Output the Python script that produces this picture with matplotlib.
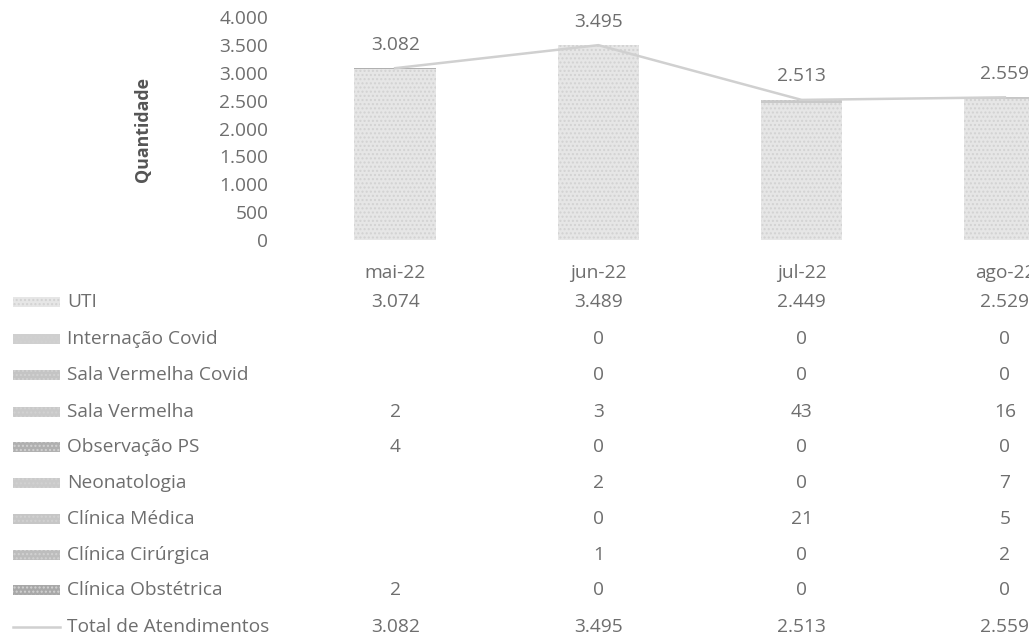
import numpy as np
import matplotlib
matplotlib.use("Agg")
import matplotlib.pyplot as plt
from matplotlib import transforms
from matplotlib.patches import Rectangle
from matplotlib.lines import Line2D

plt.rcParams['font.family'] = ['Open Sans', 'DejaVu Sans']

# -------------------------------
# Data
months = ["mai-22", "jun-22", "jul-22", "ago-22"]
series_names = ["UTI", "Internação Covid", "Sala Vermelha Covid", "Sala Vermelha",
                "Observação PS", "Neonatologia", "Clínica Médica",
                "Clínica Cirúrgica", "Clínica Obstétrica"]
uti = [3074, 3489, 2449, 2529]
internacao_covid = [np.nan, 0, 0, 0]
sala_vermelha_covid = [np.nan, 0, 0, 0]
sala_vermelha = [2, 3, 43, 16]
observacao_ps = [4, 0, 0, 0]
neonatologia = [np.nan, 2, 0, 7]
clinica_medica = [np.nan, 0, 21, 5]
clinica_cirurgica = [np.nan, 1, 0, 2]
clinica_obstetrica = [2, 0, 0, 0]
total = [3082, 3495, 2513, 2559]

series = [uti, internacao_covid, sala_vermelha_covid, sala_vermelha, observacao_ps,
          neonatologia, clinica_medica, clinica_cirurgica, clinica_obstetrica]
grays = ["#e6e6e6", "#cfcfcf", "#c4c4c4", "#c9c9c9", "#b0b0b0",
         "#cacaca", "#c6c6c6", "#bdbdbd", "#a8a8a8"]
text_color = "#6e6e6e"
FS = 13.8

# -------------------------------
W, H = 1029, 637
fig = plt.figure(figsize=(W / 100, H / 100), dpi=100)
ax_left, ax_right = 293.5, 1106.5
ax_top, ax_bottom = 17, 240
ax = fig.add_axes([ax_left / W, 1 - ax_bottom / H,
                   (ax_right - ax_left) / W, (ax_bottom - ax_top) / H])

x = np.arange(len(months))
bottom = np.zeros(len(months))
for vals, color in zip(series, grays):
    v = np.nan_to_num(np.array(vals, dtype=float))
    ax.bar(x, v, bottom=bottom, width=0.4, color=color, linewidth=0,
           hatch="....", edgecolor="#d2d2d2")
    bottom += v

ax.plot(x, total, color="#d0d0d0", linewidth=1.8)
for xi, t in zip(x, total):
    ax.annotate(f"{t:,}".replace(",", "."), (xi, t), xytext=(0, 17),
                textcoords="offset points", ha="center", va="center",
                fontsize=FS, color=text_color)

ax.set_xlim(-0.5, 3.5)
ax.set_ylim(0, 4000)
ax.set_yticks(range(0, 4001, 500))
ax.set_yticklabels([f"{v:,}".replace(",", ".") for v in range(0, 4001, 500)],
                   fontsize=FS, color=text_color)
ax.tick_params(axis="y", length=0, pad=18)
ax.set_xticks([])
for s in ax.spines.values():
    s.set_visible(False)
ax.set_facecolor("none")

fig.text(143 / W, 1 - 130 / H, "Quantidade", rotation=90, ha="center", va="center",
         fontsize=FS - 1, color="#555555", fontweight="bold")

# -------------------------------
# Data table under the chart
tr = transforms.blended_transform_factory(ax.transData, fig.transFigure)
def fy(py):
    return 1 - py / H

for xi, m in zip(x, months):
    fig.text(xi, fy(273), m, transform=tr, ha="center", va="center",
             fontsize=FS, color=text_color)

row_y = [302, 339, 375, 412, 447, 483, 519, 555, 590, 627]
for name, vals, color, py in zip(series_names + ["Total de Atendimentos"],
                                 series + [total], grays + [None], row_y):
    fig.text(67 / W, fy(py), name, ha="left", va="center", fontsize=FS, color=text_color)
    if color is None:
        fig.add_artist(Line2D([13 / W, 60 / W], [fy(py), fy(py)],
                              transform=fig.transFigure, color="#d0d0d0", lw=1.8))
    else:
        fig.add_artist(Rectangle((13 / W, fy(py + 5)), 47 / W, 10 / H,
                                 transform=fig.transFigure, facecolor=color,
                                 hatch="....", edgecolor="#d2d2d2", linewidth=0))
    for xi, v in zip(x, vals):
        if np.isnan(v):
            continue
        fig.text(xi, fy(py), f"{int(v):,}".replace(",", "."), transform=tr,
                 ha="center", va="center", fontsize=FS, color=text_color)

fig.savefig("out.png", dpi=100)
